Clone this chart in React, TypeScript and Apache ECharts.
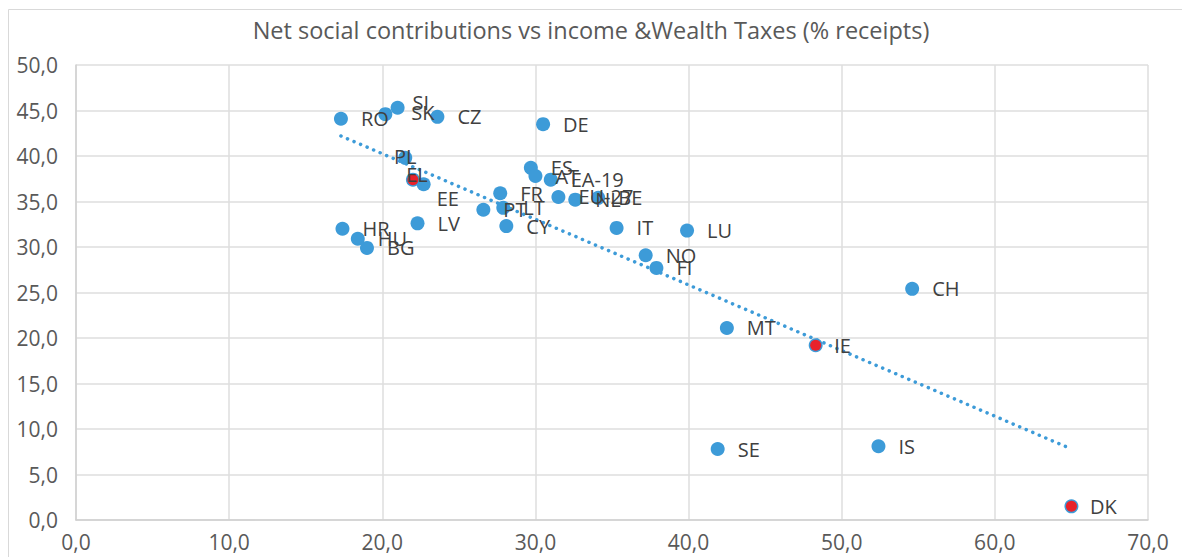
import React, { useEffect, useRef } from "react";
import * as echarts from "echarts";

const countries = ["RO", "SI", "SK", "CZ", "DE", "PL", "EL", "EE", "LV", "HR", "HU", "BG", "ES", "AT", "EA-19", "FR", "EU-27", "NL", "BE", "PT", "LT", "CY", "IT", "LU", "NO", "FI", "CH", "MT", "IE", "SE", "IS", "DK"];
const incomeWealth = [17.3, 21.0, 20.2, 23.6, 30.5, 21.5, 22.0, 22.7, 22.3, 17.4, 18.4, 19.0, 29.7, 30.0, 31.0, 27.7, 31.5, 32.6, 34.1, 26.6, 27.9, 28.1, 35.3, 39.9, 37.2, 37.9, 54.6, 42.5, 48.3, 41.9, 52.4, 65.0];
const socialContrib = [44.1, 45.3, 44.6, 44.3, 43.5, 39.8, 37.4, 36.9, 32.6, 32.0, 30.9, 29.9, 38.7, 37.8, 37.4, 35.9, 35.5, 35.2, 35.4, 34.1, 34.3, 32.3, 32.1, 31.8, 29.1, 27.7, 25.4, 21.1, 19.2, 7.8, 8.1, 1.5];
const highlighted = ["EL", "IE", "DK"];
const trendX = [17.3, 65.0];
const trendY = [42.2, 7.8];
const xTicks = [0, 10, 20, 30, 40, 50, 60, 70];
const yTicks = [0, 5, 10, 15, 20, 25, 30, 35, 40, 45, 50];

const TITLE = "Net social contributions vs income &Wealth Taxes (% receipts)";
const BLUE = "#3d9bd8";
const RED = "#e8222b";
const FONT = "'Open Sans', 'DejaVu Sans', sans-serif";

const labelTweaks: Record<string, any> = {
  SI: { offset: [-5, -5] },
  SK: { offset: [6, -2] },
  PL: { position: "inside", offset: [0, -1] },
  EL: { position: "inside", offset: [4, -5] },
  EE: { offset: [-7, 14] },
};

const fmt = (v: number) => v.toFixed(1).replace(".", ",");

export default function App() {
  const ref = useRef<HTMLDivElement>(null);
  useEffect(() => {
    if (!ref.current) return;
    const chart = echarts.init(ref.current, null, { renderer: "svg" });
    const labelFor = (name: string, show: boolean) => ({
      show,
      ...(labelTweaks[name] || {}),
    });
    const blueData = countries.map((n, i) => ({
      name: n,
      value: [incomeWealth[i], socialContrib[i]],
      label: labelFor(n, !highlighted.includes(n)),
    }));
    const redData = countries
      .map((n, i) => ({ n, i }))
      .filter((d) => highlighted.includes(d.n))
      .map(({ n, i }) => ({
        name: n,
        value: [incomeWealth[i], socialContrib[i]],
        label: labelFor(n, true),
      }));
    const labelStyle = {
      position: "right",
      distance: 13,
      formatter: "{b}",
      color: "#404040",
      fontSize: 20,
      fontFamily: FONT,
    };
    chart.setOption({
      animation: false,
      backgroundColor: "#ffffff",
      title: {
        text: TITLE,
        left: "center",
        top: 13,
        textStyle: { color: "#595959", fontSize: 23.5, fontWeight: "normal", fontFamily: FONT },
      },
      graphic: [
        {
          type: "rect",
          shape: { x: 8.5, y: 9.5, width: 1300, height: 700 },
          style: { fill: "none", stroke: "#d9d9d9", lineWidth: 1 },
          silent: true,
          z: -1,
        },
      ],
      grid: { left: 76, right: 34, top: 65, bottom: 37, containLabel: false },
      xAxis: {
        type: "value",
        min: xTicks[0],
        max: xTicks[xTicks.length - 1],
        interval: xTicks[1] - xTicks[0],
        axisLine: { show: true, lineStyle: { color: "#d0d0d0", width: 1.5 } },
        axisTick: { show: false },
        splitLine: { show: true, lineStyle: { color: "#dedede", width: 1.5 } },
        axisLabel: { formatter: fmt, color: "#595959", fontSize: 21, fontFamily: FONT, margin: 11 },
      },
      yAxis: {
        type: "value",
        min: yTicks[0],
        max: yTicks[yTicks.length - 1],
        interval: yTicks[1] - yTicks[0],
        axisLine: { show: true, lineStyle: { color: "#d0d0d0", width: 1.5 } },
        axisTick: { show: false },
        splitLine: { show: true, lineStyle: { color: "#dedede", width: 1.5 } },
        axisLabel: { formatter: fmt, color: "#595959", fontSize: 21, fontFamily: FONT, margin: 18 },
      },
      series: [
        {
          type: "line",
          data: trendX.map((x, i) => [x, trendY[i]]),
          symbol: "none",
          lineStyle: { color: BLUE, width: 3.5, type: [0.1, 7], cap: "round" },
          z: 1,
          silent: true,
        },
        {
          type: "scatter",
          data: blueData,
          symbolSize: 14,
          itemStyle: { color: BLUE, opacity: 1 },
          label: labelStyle,
          z: 2,
        },
        {
          type: "scatter",
          data: redData,
          symbolSize: 11,
          itemStyle: { color: RED, opacity: 1 },
          label: labelStyle,
          z: 3,
        },
      ],
    });
    return () => chart.dispose();
  }, []);
  return (
    <div
      ref={ref}
      style={{ position: "absolute", left: 0, top: 0, width: 1182, height: 557 }}
    />
  );
}
